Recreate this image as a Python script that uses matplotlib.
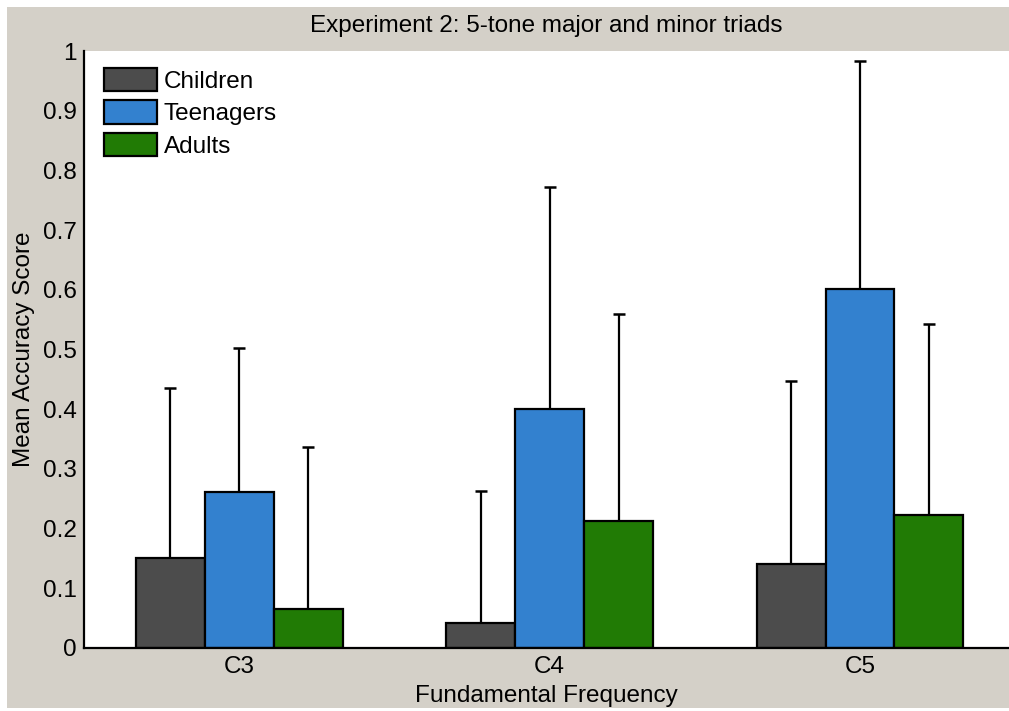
import matplotlib.pyplot as plt
from matplotlib.patches import Rectangle
import numpy as np

plt.rcParams['font.family'] = ['Liberation Sans', 'DejaVu Sans']

# values
freqs = ["C3", "C4", "C5"]
groups = ["Children", "Teenagers", "Adults"]
means = {
    "Children": [0.151, 0.042, 0.141],
    "Teenagers": [0.262, 0.401, 0.601],
    "Adults": [0.065, 0.213, 0.223],
}
err_top = {
    "Children": [0.436, 0.263, 0.448],
    "Teenagers": [0.502, 0.772, 0.983],
    "Adults": [0.337, 0.560, 0.542],
}
colors = {"Children": "#4c4c4c", "Teenagers": "#3381cf", "Adults": "#217b05"}

bg = "#d4d0c8"
fs = 17.5
fig = plt.figure(figsize=(10.09, 7.11), dpi=100, facecolor="white")
# grey panel like the matlab window, thin white border left/top/bottom
fig.patches.append(Rectangle((7 / 1009, 3 / 711), 1, 1 - 10 / 711,
                             transform=fig.transFigure, facecolor=bg,
                             edgecolor="none", zorder=-10))

ax = fig.add_axes([84 / 1009, 1 - 648 / 711, (1009 - 84) / 1009, (648 - 51) / 711])

x = np.arange(1, len(freqs) + 1)
w = 0.222
for i, g in enumerate(groups):
    xs = x + (i - 1) * w
    ax.bar(xs, means[g], width=w, color=colors[g], edgecolor="black",
           linewidth=1.6, label=g, zorder=2)
    up = np.array(err_top[g]) - np.array(means[g])
    ax.errorbar(xs, means[g], yerr=[np.zeros(3), up], fmt="none",
                ecolor="black", elinewidth=1.6, capsize=4.5, capthick=1.8,
                zorder=1)

ax.set_xlim(0.5, 3.48)
ax.set_ylim(0, 1)
ax.set_xticks(x)
ax.set_xticklabels(freqs)
ax.set_yticks(np.arange(0, 1.01, 0.1))
ax.set_yticklabels(["0"] + ["%.1f" % v for v in np.arange(0.1, 0.95, 0.1)] + ["1"])
ax.tick_params(length=0, labelsize=fs)
ax.tick_params(axis="y", pad=5)
ax.tick_params(axis="x", pad=6)
for s in ["top", "right"]:
    ax.spines[s].set_visible(False)
for s in ["left", "bottom"]:
    ax.spines[s].set_linewidth(1.6)

ax.set_title("Experiment 2: 5-tone major and minor triads", fontsize=fs, pad=14)
ax.set_xlabel("Fundamental Frequency", fontsize=fs, labelpad=5)
ax.set_ylabel("Mean Accuracy Score", fontsize=fs, labelpad=6)

ax.legend(loc="upper left", frameon=False, fontsize=fs, handlelength=2.2,
          handleheight=1.1, handletextpad=0.25, labelspacing=0.32,
          borderaxespad=0, borderpad=0, bbox_to_anchor=(0.0216, 0.972))

fig.savefig("out.png", dpi=100, facecolor=fig.get_facecolor())
